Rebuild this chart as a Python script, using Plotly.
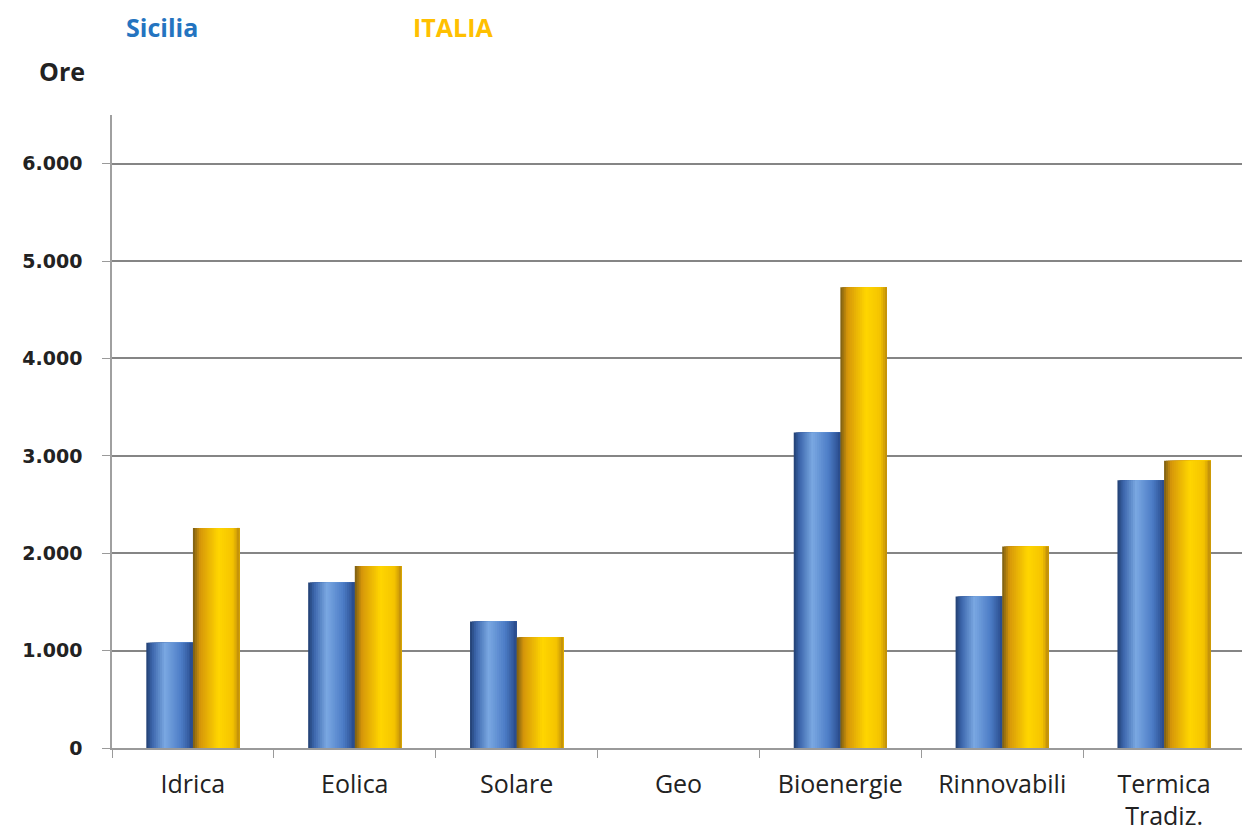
import plotly.graph_objects as go

categories = ["Idrica", "Eolica", "Solare", "Geo", "Bioenergie", "Rinnovabili", "Termica<br>Tradiz."]
sicilia = [1080, 1700, 1300, None, 3240, 1555, 2750]
italia = [2260, 1868, 1138, None, 4730, 2068, 2950]
y_ticks = [0, 1000, 2000, 3000, 4000, 5000, 6000]

BAR_W = 0.288
N = 24

ML, MR, MT, MB = 103.5, 13, 107, 95
W, H = 1250, 835


def lerp(c1, c2, t):
    return tuple(int(round(a + (b - a) * t)) for a, b in zip(c1, c2))


def profile(stops, t):
    for (t0, c0), (t1, c1) in zip(stops, stops[1:]):
        if t0 <= t <= t1:
            return lerp(c0, c1, (t - t0) / (t1 - t0) if t1 > t0 else 0)
    return stops[-1][1]


blue_stops = [(0.0, (34, 62, 112)), (0.12, (58, 100, 170)), (0.40, (122, 168, 226)),
              (0.75, (76, 124, 198)), (1.0, (40, 74, 138))]
yellow_stops = [(0.0, (120, 92, 20)), (0.15, (214, 150, 10)), (0.55, (255, 214, 0)),
                (0.85, (245, 196, 0)), (1.0, (190, 140, 10))]

fig = go.Figure()
for values, stops, base_off, name in [(sicilia, blue_stops, -BAR_W, "Sicilia"),
                                      (italia, yellow_stops, 0.0, "ITALIA")]:
    step = BAR_W / N
    for i in range(N):
        t = (i + 0.5) / N
        r, g, b = profile(stops, t)
        # each shading layer runs from its start to the bar's right edge;
        # later layers cover the earlier ones, so no seams show
        fig.add_trace(go.Bar(
            x=categories, y=values, name=name,
            width=BAR_W - i * step, offset=base_off + i * step,
            marker=dict(color=f"rgb({r},{g},{b})", line=dict(width=0)),
            showlegend=False, hoverinfo="x+y",
        ))

fig.update_layout(
    width=W, height=H,
    margin=dict(l=ML, r=MR, t=MT, b=MB, autoexpand=False),
    paper_bgcolor="white", plot_bgcolor="white",
    barmode="overlay",
    separators=",.",
    font=dict(family="Open Sans", color="#222222"),
    xaxis=dict(
        type="category", showline=True, linecolor="#9a9a9a", linewidth=1.5,
        ticks="outside", tickson="boundaries", ticklen=8, tickcolor="#9a9a9a",
        tickfont=dict(family="Open Sans", size=25, color="#222222"),
        ticklabelstandoff=13,
        showgrid=False, range=[-0.5, 6.5],
    ),
    yaxis=dict(
        range=[0, 6500], tickvals=y_ticks, tickformat=",d",
        showline=True, linecolor="#a0a0a0", linewidth=1.5,
        ticks="outside", ticklen=8, tickcolor="#9a9a9a",
        ticklabelstandoff=16,
        showgrid=True, gridcolor="#858585", gridwidth=1.5,
        tickfont=dict(family="DejaVu Sans", size=19, color="#222222", weight="bold"),
        zeroline=False,
    ),
)

# annotation positions given in figure pixels (top of text box, centre x)
labels = [
    ("<b>Sicilia</b>", 154, 0, "#2474C0"),
    ("<b>ITALIA</b>", 445, 0, "#FFC000"),
    ("<b>Ore</b>", 53, 44, "#222222"),
]
pw = W - ML - MR
ph = H - MT - MB
for text, px, py, col in labels:
    fig.add_annotation(
        text=text, x=(px - ML) / pw, y=1 - (py - MT) / ph,
        xref="paper", yref="paper", xanchor="center", yanchor="top",
        showarrow=False, font=dict(family="Open Sans", size=25, color=col),
    )

fig.write_html("out.html")
